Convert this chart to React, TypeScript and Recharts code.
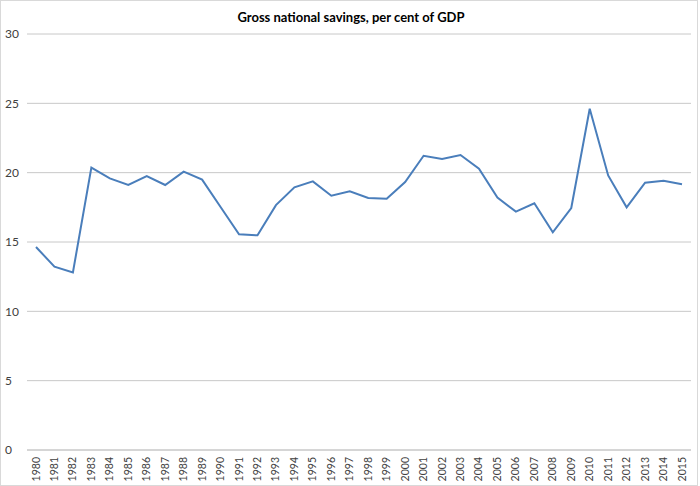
import React from "react";
import { LineChart, Line, XAxis, YAxis, CartesianGrid } from "recharts";

const years = [
  "1980","1981","1982","1983","1984","1985","1986","1987","1988","1989",
  "1990","1991","1992","1993","1994","1995","1996","1997","1998","1999",
  "2000","2001","2002","2003","2004","2005","2006","2007","2008","2009",
  "2010","2011","2012","2013","2014","2015",
];
const savings = [
  14.64, 13.22, 12.81, 20.36, 19.59, 19.11, 19.76, 19.11, 20.07, 19.5,
  17.52, 15.55, 15.48, 17.66, 18.94, 19.37, 18.34, 18.65, 18.17, 18.12,
  19.32, 21.22, 20.98, 21.27, 20.29, 18.2, 17.19, 17.79, 15.7, 17.45,
  24.61, 19.8, 17.5, 19.28, 19.42, 19.16,
];
const yTicks = [0, 5, 10, 15, 20, 25, 30];
const title = "Gross national savings, per cent of GDP";

const data = years.map((y, i) => ({ year: y, value: savings[i] }));

const FONT = "Lato, 'Liberation Sans', sans-serif";

const XTick = (props: any) => {
  const { x, y, payload } = props;
  return (
    <text
      x={0}
      y={0}
      transform={`translate(${x + 3.5},${y - 1}) rotate(-90)`}
      textAnchor="end"
      fontSize={10.5}
      fontFamily={FONT}
      fill="#404040"
    >
      {payload.value}
    </text>
  );
};

export default function App() {
  return (
    <div style={{ position: "absolute", left: 0, top: 0, width: 700, height: 486, background: "#fff" }}>
      <div
        style={{
          position: "absolute",
          left: 0,
          top: 0,
          width: 698,
          height: 486,
          boxSizing: "border-box",
          border: "1px solid #d9d9d9",
          pointerEvents: "none",
        }}
      />
      <LineChart
        width={700}
        height={486}
        data={data}
        margin={{ top: 34, right: 9, left: 0, bottom: 0 }}
      >
        <text
          x={351}
          y={22}
          textAnchor="middle"
          fontSize={13}
          fontWeight="bold"
          fontFamily={FONT}
          fill="#000"
        >
          {title}
        </text>
        <CartesianGrid vertical={false} stroke="#c8c8c8" strokeWidth={1} />
        <XAxis
          dataKey="year"
          interval={0}
          height={36}
          padding={{ left: 9, right: 9 }}
          tickLine={false}
          axisLine={{ stroke: "#c8c8c8" }}
          tick={<XTick />}
        />
        <YAxis
          domain={[0, 30]}
          ticks={yTicks}
          width={27}
          axisLine={false}
          tickLine={false}
          tick={{ fontSize: 12, fontFamily: FONT, fill: "#404040", textAnchor: "start", dx: -14 }}
        />
        <Line
          type="linear"
          dataKey="value"
          stroke="#4a7ebb"
          strokeWidth={2}
          dot={false}
          isAnimationActive={false}
        />
      </LineChart>
    </div>
  );
}
